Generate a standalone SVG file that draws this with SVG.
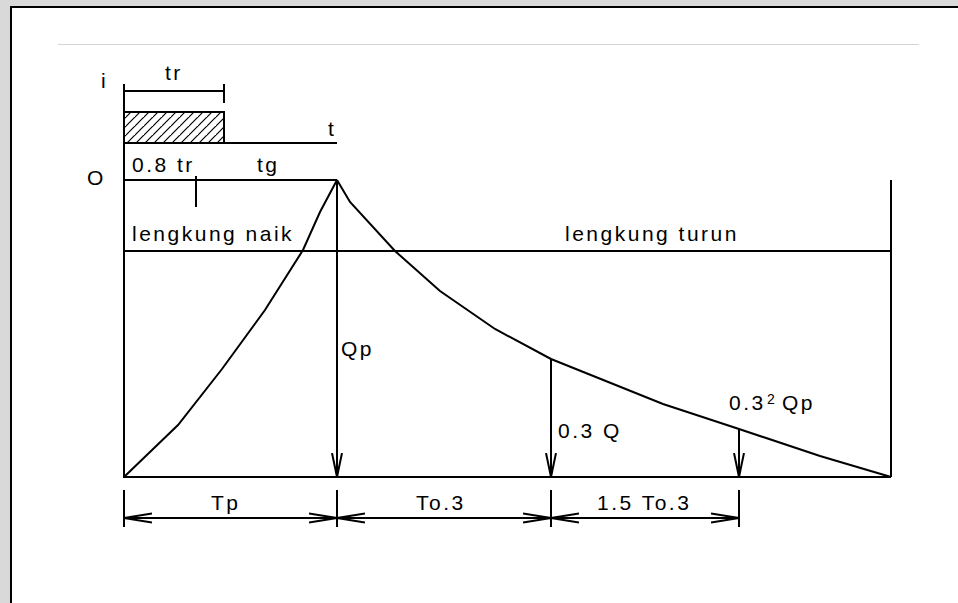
<svg xmlns="http://www.w3.org/2000/svg" width="958" height="603" viewBox="0 0 958 603">
<style>
.ln{stroke:#000;stroke-width:2;fill:none}
.tx{font-family:"Liberation Sans",Arial,sans-serif;font-size:21px;letter-spacing:2.5px;fill:#000}
</style>
<defs>
<marker id="arrV" markerUnits="userSpaceOnUse" markerWidth="30" markerHeight="14" refX="24" refY="6" orient="auto-start-reverse" viewBox="0 0 30 14">
<path d="M0,1 L24,6 L0,11" fill="none" stroke="#000" stroke-width="2"/>
</marker>
<marker id="arrD" markerUnits="userSpaceOnUse" markerWidth="32" markerHeight="14" refX="28" refY="6" orient="auto-start-reverse" viewBox="0 0 32 14">
<path d="M0,1.5 L28,6 L0,10.5" fill="none" stroke="#000" stroke-width="2"/>
</marker>
<pattern id="hatch" patternUnits="userSpaceOnUse" width="9" height="9">
<path d="M-1,10 L10,-1 M-2,2 L2,-2 M8,11 L11,8" stroke="#000" stroke-width="1.2"/>
</pattern>
</defs>
<rect x="0" y="0" width="958" height="603" fill="#d9d9d9"/>
<rect x="11" y="7" width="960" height="610" fill="#fff" stroke="#000" stroke-width="2"/>
<line x1="58" y1="44.5" x2="919" y2="44.5" stroke="#d4d4d4" stroke-width="1"/>

<g id="rain">
<rect x="124" y="112" width="100" height="31" fill="url(#hatch)"/>
<polyline class="ln" points="124,112 224,112 224,143"/>
<line class="ln" x1="124" y1="143" x2="337" y2="143"/>
<line class="ln" x1="124" y1="91" x2="224" y2="91"/>
<line class="ln" x1="224" y1="84" x2="224" y2="103"/>
<text class="tx" x="101" y="88">i</text>
<text class="tx" x="165" y="80">tr</text>
<text class="tx" x="328" y="136">t</text>
</g>

<g id="axes">
<line class="ln" x1="124" y1="84" x2="124" y2="478"/>
<line class="ln" x1="124" y1="180" x2="337" y2="180"/>
<line class="ln" x1="196" y1="176" x2="196" y2="207"/>
<line class="ln" x1="124" y1="251" x2="891" y2="251"/>
<line class="ln" x1="124" y1="477" x2="891" y2="477"/>
<line class="ln" x1="891" y1="180" x2="891" y2="477"/>
<text class="tx" x="87" y="185">O</text>
<text class="tx" x="132" y="172">0.8 tr</text>
<text class="tx" x="257" y="172">tg</text>
<text class="tx" x="132" y="241">lengkung naik</text>
<text class="tx" x="565" y="241">lengkung turun</text>
</g>

<g id="rising-curve">
<polyline class="ln" points="124,477 178,425 222,369 265,310 303,250 320,212 337,180"/>
</g>
<g id="falling-curve">
<polyline class="ln" points="337,180 350,202 395,251 440,291 495,329 551,359 663,404 739,429 820,456 891,477"/>
</g>

<g id="connectors">
<line class="ln" x1="337" y1="180" x2="337" y2="477" marker-end="url(#arrV)"/>
<line class="ln" x1="551" y1="359" x2="551" y2="477" marker-end="url(#arrV)"/>
<line class="ln" x1="739" y1="429" x2="739" y2="477" marker-end="url(#arrV)"/>
<line class="ln" x1="124" y1="490" x2="124" y2="527"/>
<line class="ln" x1="337" y1="490" x2="337" y2="527"/>
<line class="ln" x1="551" y1="490" x2="551" y2="527"/>
<line class="ln" x1="739" y1="490" x2="739" y2="527"/>
<line class="ln" x1="124" y1="518" x2="337" y2="518" marker-start="url(#arrD)" marker-end="url(#arrD)"/>
<line class="ln" x1="337" y1="518" x2="551" y2="518" marker-start="url(#arrD)" marker-end="url(#arrD)"/>
<line class="ln" x1="551" y1="518" x2="739" y2="518" marker-start="url(#arrD)" marker-end="url(#arrD)"/>
</g>

<g id="labels">
<text class="tx" x="341" y="356">Qp</text>
<text class="tx" x="558" y="438">0.3 Q</text>
<text class="tx" x="729" y="410">0.3</text>
<text class="tx" x="767" y="404" style="font-size:14px;letter-spacing:0">2</text>
<text class="tx" x="782" y="410">Qp</text>
<text class="tx" x="211" y="510">Tp</text>
<text class="tx" x="416" y="510">To.3</text>
<text class="tx" x="597" y="510">1.5 To.3</text>
</g>
</svg>
